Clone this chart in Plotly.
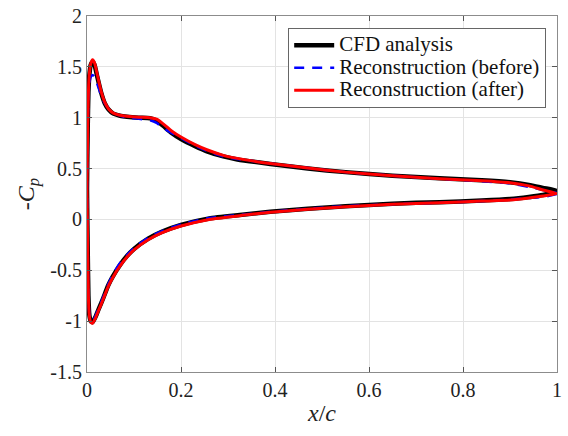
import plotly.graph_objects as go

# ---- data (x/c and -Cp) ----
x_lower = [1.0, 0.97, 0.94, 0.9, 0.84, 0.75, 0.65, 0.55, 0.47, 0.39, 0.33, 0.26, 0.2, 0.16, 0.13,
           0.10, 0.085, 0.07, 0.055, 0.045, 0.034, 0.025, 0.018, 0.012, 0.008, 0.005, 0.003, 0.0015, 0.0]
x_upper = [0.0015, 0.003, 0.005, 0.008, 0.012, 0.016, 0.022, 0.03, 0.038, 0.046, 0.056, 0.07, 0.085,
           0.11, 0.134, 0.148, 0.162, 0.18, 0.2, 0.23, 0.255, 0.29, 0.32, 0.39, 0.47, 0.55, 0.65,
           0.75, 0.84, 0.9, 0.94, 0.97, 1.0]

cfd_lower = [0.28, 0.24, 0.22, 0.20, 0.185, 0.17, 0.155, 0.13, 0.105, 0.075, 0.045, 0.01, -0.055, -0.12,
             -0.19, -0.29, -0.36, -0.45, -0.56, -0.65, -0.78, -0.88, -0.96, -1.01, -1.0, -0.94, -0.75, -0.3, 0.3]
cfd_upper = [0.9, 1.25, 1.42, 1.52, 1.55, 1.52, 1.40, 1.25, 1.14, 1.08, 1.04, 1.02, 1.01,
             1.0, 0.995, 0.97, 0.92, 0.85, 0.79, 0.72, 0.67, 0.62, 0.59, 0.545, 0.50, 0.465, 0.43,
             0.405, 0.385, 0.365, 0.34, 0.31, 0.28]

before_lower = [0.25, 0.22, 0.21, 0.195, 0.18, 0.165, 0.15, 0.13, 0.105, 0.075, 0.045, 0.015, -0.05, -0.115,
                -0.18, -0.28, -0.35, -0.43, -0.54, -0.64, -0.77, -0.87, -0.95, -1.0, -0.99, -0.93, -0.74, -0.3, 0.3]
before_upper = [0.9, 1.2, 1.34, 1.40, 1.42, 1.40, 1.33, 1.22, 1.14, 1.09, 1.05, 1.02, 1.0,
                0.99, 0.975, 0.95, 0.90, 0.85, 0.80, 0.725, 0.675, 0.62, 0.595, 0.55, 0.505, 0.465, 0.43,
                0.40, 0.375, 0.355, 0.32, 0.29, 0.26]

after_lower = [0.255, 0.23, 0.21, 0.19, 0.18, 0.165, 0.15, 0.125, 0.10, 0.07, 0.04, 0.0, -0.065, -0.13,
               -0.20, -0.30, -0.37, -0.46, -0.57, -0.66, -0.79, -0.89, -0.97, -1.02, -1.01, -0.95, -0.76, -0.3, 0.3]
after_upper = [0.9, 1.25, 1.43, 1.53, 1.57, 1.54, 1.42, 1.26, 1.15, 1.085, 1.045, 1.025, 1.015,
               1.005, 1.0, 0.985, 0.94, 0.87, 0.81, 0.735, 0.685, 0.63, 0.60, 0.55, 0.505, 0.465, 0.43,
               0.40, 0.38, 0.36, 0.33, 0.29, 0.255]

series_names = ["CFD analysis", "Reconstruction (before)", "Reconstruction (after)"]
x_ticks = [0, 0.2, 0.4, 0.6, 0.8, 1]
x_ticktext = ["0", "0.2", "0.4", "0.6", "0.8", "1"]
y_ticks = [-1.5, -1, -0.5, 0, 0.5, 1, 1.5, 2]
y_ticktext = ["-1.5", "-1", "-0.5", "0", "0.5", "1", "1.5", "2"]

FONT = "Liberation Serif"
TXT = "#222222"


def leg(name):
    return '<span style="font-size:21px">' + name + '</span>'


fig = go.Figure()
fig.add_trace(go.Scatter(x=x_lower + x_upper, y=cfd_lower + cfd_upper, mode="lines",
                         name=leg(series_names[0]),
                         line=dict(color="black", width=4.5, shape="spline", smoothing=0.5)))
fig.add_trace(go.Scatter(x=x_lower + x_upper, y=before_lower + before_upper, mode="lines",
                         name=leg(series_names[1]),
                         line=dict(color="#0000ff", width=2.5, dash="10px,8px", shape="spline", smoothing=0.5)))
fig.add_trace(go.Scatter(x=x_lower + x_upper, y=after_lower + after_upper, mode="lines",
                         name=leg(series_names[2]),
                         line=dict(color="#ff0000", width=3, shape="spline", smoothing=0.5)))

axis_common = dict(showgrid=True, gridcolor="#e3e3e3", gridwidth=1, zeroline=False,
                   showline=True, linecolor="#8c8c8c", linewidth=1, mirror="ticks",
                   ticks="inside", ticklen=5, tickcolor="#555555", automargin=False,
                   tickfont=dict(family=FONT, size=20, color=TXT))

fig.update_xaxes(range=[0, 1], tickvals=x_ticks, ticktext=x_ticktext,
                 title=dict(text="<i>x</i>/<i>c</i>", font=dict(family=FONT, size=24, color=TXT),
                            standoff=4),
                 **axis_common)
fig.update_yaxes(range=[-1.5, 2], tickvals=y_ticks, ticktext=y_ticktext,
                 title=dict(text="-<i>C</i><sub><i>p</i></sub>", font=dict(family=FONT, size=24, color=TXT),
                            standoff=8),
                 **axis_common)

fig.update_layout(
    width=568, height=436,
    margin=dict(l=87, r=11, t=16, b=64, autoexpand=False),
    paper_bgcolor="white", plot_bgcolor="white",
    showlegend=True,
    legend=dict(x=0.977, y=0.966, xanchor="right", yanchor="top",
                bgcolor="white", bordercolor="#666666", borderwidth=1,
                font=dict(family=FONT, size=15, color="#111111"),
                tracegroupgap=0, itemwidth=40),
)

fig.write_html("out.html")
